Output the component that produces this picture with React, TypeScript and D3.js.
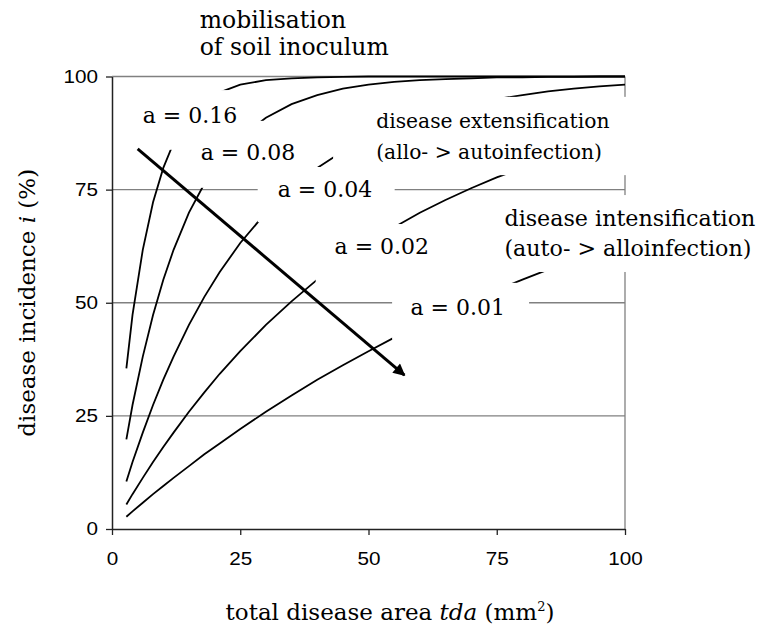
import React, { useEffect, useRef } from "react";
import * as d3 from "d3";

// total disease area (mm2) where the curves were read
const tda = [2.8, 4, 6, 8, 10, 12, 15, 18, 21, 25, 30, 35, 40, 45, 50, 55, 60, 65, 70, 75, 80, 85, 90, 95, 100];

// disease incidence (%) read for each curve
const incA016 = [35.5, 47.3, 61.7, 72.2, 79.8, 85.3, 90.9, 94.4, 96.5, 98.2, 99.2, 99.6, 99.8, 99.9, 100, 100, 100, 100, 100, 100, 100, 100, 100, 100, 100];
const incA008 = [19.8, 27.4, 38.1, 47.3, 55.1, 61.7, 69.9, 76.3, 81.4, 86.5, 90.9, 93.9, 95.9, 97.3, 98.2, 98.8, 99.2, 99.4, 99.6, 99.8, 99.8, 99.9, 99.9, 100, 100];
const incA004 = [10.5, 14.8, 21.3, 27.4, 33, 38.1, 45.1, 51.3, 56.8, 63.2, 69.9, 75.3, 79.8, 83.5, 86.5, 88.9, 90.9, 92.6, 93.9, 95, 95.9, 96.7, 97.3, 97.8, 98.2];
const incA002 = [5.4, 7.7, 11.3, 14.8, 18.1, 21.3, 25.9, 30.2, 34.3, 39.3, 45.1, 50.3, 55.1, 59.3, 63.2, 66.7, 69.9, 72.7, 75.3, 77.7, 79.8, 81.7, 83.5, 85, 86.5];
const incA001 = [2.7, 3.9, 5.8, 7.7, 9.5, 11.3, 13.9, 16.5, 18.9, 22.1, 25.9, 29.5, 33, 36.2, 39.3, 42.3, 45.1, 47.8, 50.3, 52.8, 55.1, 57.3, 59.3, 61.3, 63.2];

const curves = [incA016, incA008, incA004, incA002, incA001];

const xTicks = [0, 25, 50, 75, 100];
const yTicks = [0, 25, 50, 75, 100];

// arrow, in data units
const arrowFrom = [5, 84];
const arrowTo = [57, 34];

const W = 768;
const H = 630;

const App = () => {
  const ref = useRef<SVGSVGElement>(null);

  useEffect(() => {
    const svg = d3.select(ref.current);
    svg.selectAll("*").remove();

    const x = d3.scaleLinear().domain([0, 100]).range([112, 625]);
    const y = d3.scaleLinear().domain([0, 100]).range([529, 76.5]);

    const serif = "'DejaVu Serif', serif";
    const sans = "'Liberation Sans', Arial, sans-serif";
    const stretch = 1.15; // tick labels look widened

    // labels: box = [x0, x1, yTop, yBottom] in data units (white, hides what is under)
    const labels = [
      { lines: ["a = 0.16"], at: [15.2, 91.5], anchor: "middle", size: 22, gap: 0, box: [3.5, 26.9, 97, 83.8] },
      { lines: ["a = 0.08"], at: [26.5, 83.2], anchor: "middle", size: 22, gap: 0, box: [16.1, 36.6, 90.2, 75.4] },
      { lines: ["a = 0.04"], at: [41.5, 75.1], anchor: "middle", size: 22, gap: 0, box: [28.4, 55.1, 80, 67.8] },
      { lines: ["a = 0.02"], at: [52.6, 62.5], anchor: "middle", size: 22, gap: 0, box: [39.7, 64.9, 67.4, 53.9] },
      { lines: ["a = 0.01"], at: [67.4, 49.1], anchor: "middle", size: 22, gap: 0, box: [54.6, 81.3, 54.4, 41.8] },
      {
        lines: ["disease extensification", "(allo- > autoinfection)"],
        at: [51.5, 90.2],
        anchor: "start",
        size: 20.3,
        gap: 31,
        box: [43.1, 101.4, 95.5, 78.2],
      },
      {
        lines: ["disease intensification", "(auto- > alloinfection)"],
        at: [76.5, 68.7],
        anchor: "start",
        size: 22.2,
        gap: 30,
        box: [75.2, 126, 73.8, 56.8],
      },
      { lines: ["mobilisation", "of soil inoculum"], at: [17.1, 112.5], anchor: "start", size: 23.5, gap: 27, box: null },
    ];

    // grid
    svg
      .append("g")
      .selectAll("line")
      .data(yTicks.slice(1))
      .enter()
      .append("line")
      .attr("x1", x(0))
      .attr("x2", x(100))
      .attr("y1", (d) => y(d))
      .attr("y2", (d) => y(d))
      .attr("stroke", "#808080")
      .attr("stroke-width", 1.3);

    svg
      .append("line")
      .attr("x1", x(100))
      .attr("x2", x(100))
      .attr("y1", y(0))
      .attr("y2", y(100))
      .attr("stroke", "#808080")
      .attr("stroke-width", 1.3);

    // curves
    const line = d3
      .line<number>()
      .x((_, i) => x(tda[i]))
      .y((d) => y(d));

    svg
      .append("g")
      .selectAll("path")
      .data(curves)
      .enter()
      .append("path")
      .attr("d", (d) => line(d))
      .attr("fill", "none")
      .attr("stroke", "#000")
      .attr("stroke-width", 1.8);

    // label boxes
    svg
      .append("g")
      .selectAll("rect")
      .data(labels.filter((d) => d.box))
      .enter()
      .append("rect")
      .attr("x", (d) => x(d.box![0]))
      .attr("width", (d) => x(d.box![1]) - x(d.box![0]))
      .attr("y", (d) => y(d.box![2]))
      .attr("height", (d) => y(d.box![3]) - y(d.box![2]))
      .attr("fill", "#fff");

    const lt = svg
      .append("g")
      .attr("font-family", serif)
      .attr("fill", "#000")
      .selectAll("text")
      .data(labels)
      .enter()
      .append("text")
      .attr("font-size", (d) => d.size)
      .attr("text-anchor", (d) => d.anchor);

    lt.each(function (d) {
      const t = d3.select(this);
      d.lines.forEach((s, k) => {
        t.append("tspan")
          .attr("x", x(d.at[0]))
          .attr("y", y(d.at[1]) + k * d.gap)
          .attr("dy", "0.35em")
          .text(s);
      });
    });

    // axes
    const xAxis = svg
      .append("g")
      .attr("transform", `translate(0,${y(0)})`)
      .call(d3.axisBottom(x).tickValues(xTicks).tickSize(6).tickSizeOuter(0).tickPadding(17));
    const yAxis = svg
      .append("g")
      .attr("transform", `translate(${x(0)},0)`)
      .call(d3.axisLeft(y).tickValues(yTicks).tickSize(6).tickSizeOuter(0).tickPadding(8));

    [xAxis, yAxis].forEach((g) => {
      g.select(".domain").attr("stroke", "#222").attr("stroke-width", 1.5);
      g.selectAll(".tick line").attr("stroke", "#222").attr("stroke-width", 1.3);
      g.selectAll(".tick text")
        .attr("font-family", sans)
        .attr("font-size", 18)
        .attr("fill", "#000")
        .attr("transform", `scale(${stretch},1)`);
    });
    yAxis.selectAll(".tick text").attr("x", -14 / stretch);

    // axis titles
    const xt = svg
      .append("text")
      .attr("x", 390)
      .attr("y", 620)
      .attr("text-anchor", "middle")
      .attr("font-family", serif)
      .attr("font-size", 23);
    xt.append("tspan").text("total disease area ");
    xt.append("tspan").attr("font-style", "italic").text("tda");
    xt.append("tspan").text(" (mm");
    xt.append("tspan").attr("font-size", 13).attr("dy", -9).text("2");
    xt.append("tspan").attr("dy", 9).text(")");

    const yt = svg
      .append("text")
      .attr("transform", `translate(35,${(y(0) + y(100)) / 2}) rotate(-90)`)
      .attr("text-anchor", "middle")
      .attr("font-family", serif)
      .attr("font-size", 23);
    yt.append("tspan").text("disease incidence ");
    yt.append("tspan").attr("font-style", "italic").text("i");
    yt.append("tspan").text(" (%)");

    // arrow
    svg
      .append("defs")
      .append("marker")
      .attr("id", "head")
      .attr("markerUnits", "userSpaceOnUse")
      .attr("viewBox", "0 0 10 10")
      .attr("refX", 9)
      .attr("refY", 5)
      .attr("markerWidth", 16)
      .attr("markerHeight", 12)
      .attr("orient", "auto")
      .append("path")
      .attr("d", "M0,0 L10,5 L0,10 Z")
      .attr("fill", "#000");

    svg
      .append("line")
      .attr("x1", x(arrowFrom[0]))
      .attr("y1", y(arrowFrom[1]))
      .attr("x2", x(arrowTo[0]))
      .attr("y2", y(arrowTo[1]))
      .attr("stroke", "#000")
      .attr("stroke-width", 3)
      .attr("marker-end", "url(#head)");
  }, []);

  return (
    <svg
      ref={ref}
      width={W}
      height={H}
      style={{ position: "absolute", left: 0, top: 0, background: "#fff" }}
    />
  );
};

export default App;
